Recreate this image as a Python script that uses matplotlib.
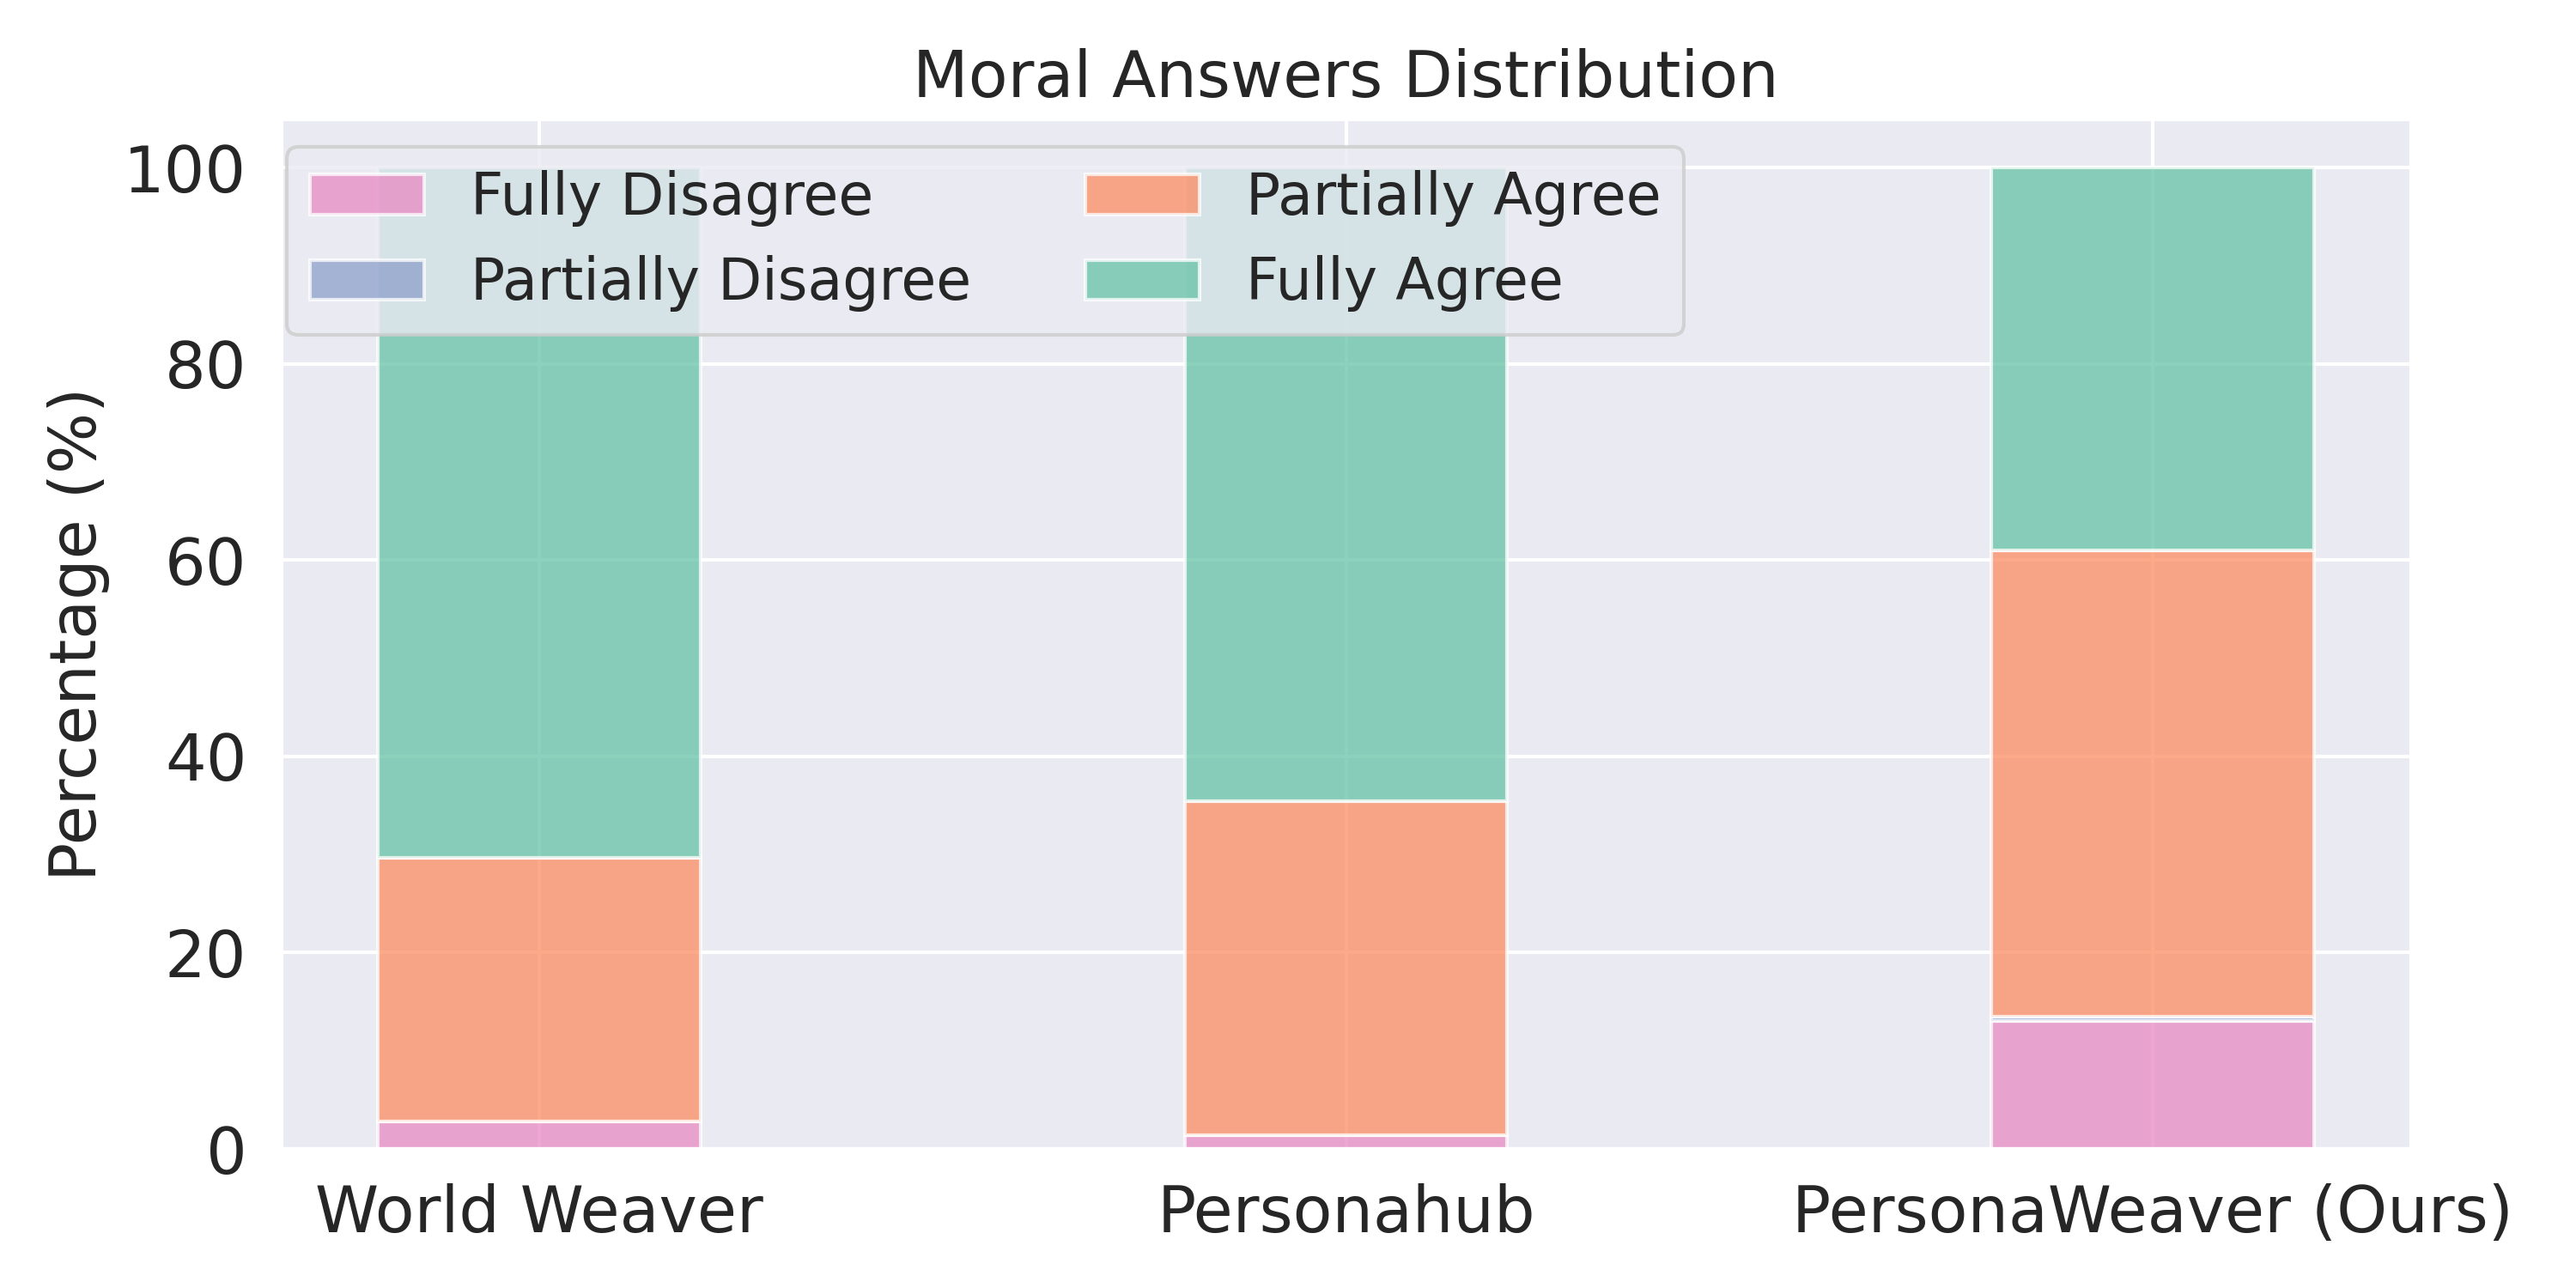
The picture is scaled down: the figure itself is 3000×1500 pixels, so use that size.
import matplotlib
matplotlib.use("Agg")
import matplotlib.pyplot as plt
import seaborn as sns
import numpy as np

sns.set_theme(style="darkgrid")
plt.rcParams['font.family'] = ['DejaVu Sans']

methods = ["World Weaver", "Personahub", "PersonaWeaver (Ours)"]
categories = ["Fully Disagree", "Partially Disagree", "Partially Agree", "Fully Agree"]
fully_disagree = [2.8, 1.4, 13.0]
partially_disagree = [0.0, 0.0, 0.5]
partially_agree = [26.9, 34.0, 47.5]
fully_agree = [70.3, 64.6, 39.0]
colors = ["#e78ac3", "#8da0cb", "#fc8d62", "#66c2a5"]

series = [fully_disagree, partially_disagree, partially_agree, fully_agree]

fig = plt.figure(figsize=(10, 5), dpi=300)
ax = fig.add_axes([0.109, 0.108, 0.827, 0.80])

x = np.arange(len(methods))
bottom = np.zeros(len(methods))
for name, vals, c in zip(categories, series, colors):
    vals = np.array(vals)
    ax.bar(x, vals, width=0.4, bottom=bottom, color=c, alpha=0.75,
           edgecolor="white", linewidth=1.0, label=name)
    bottom += vals

ax.set_xticks(x)
ax.set_xticklabels(methods, fontsize=18)
ax.tick_params(axis='y', labelsize=18)
ax.set_ylim(0, 105)
ax.set_xlim(-0.32, 2.32)
ax.set_yticks([0, 20, 40, 60, 80, 100])
ax.set_ylabel("Percentage (%)", fontsize=18)
ax.set_title("Moral Answers Distribution", fontsize=18)
ax.legend(loc="upper left", ncol=2, fontsize=16, bbox_to_anchor=(-0.0105, 1.0))

fig.savefig("out.png", dpi=300)
